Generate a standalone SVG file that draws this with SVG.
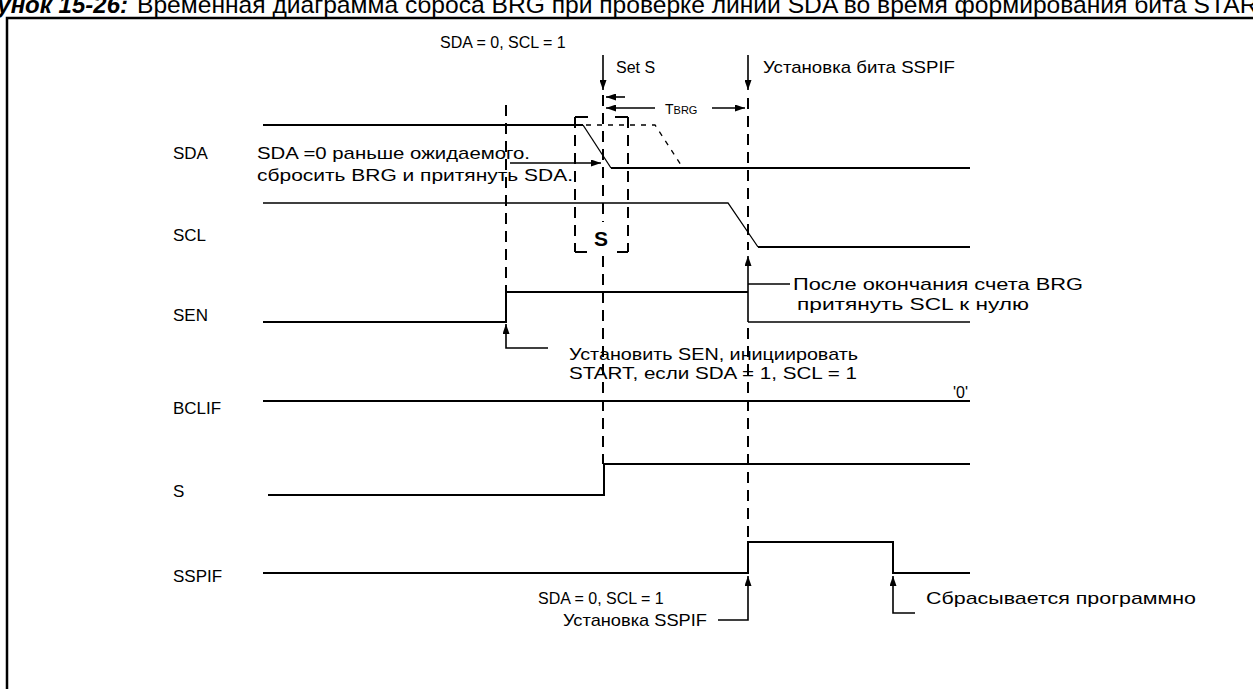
<svg xmlns="http://www.w3.org/2000/svg" width="1253" height="689" viewBox="0 0 1253 689">
<defs>
<marker id="ah" viewBox="0 0 10 8" refX="10" refY="4" markerWidth="10" markerHeight="7" orient="auto" markerUnits="userSpaceOnUse" preserveAspectRatio="none">
<path d="M0,0 L10,4 L0,8 z" fill="#000"/>
</marker>
<style>
text{font-family:"Liberation Sans",Arial,sans-serif;font-size:17px;fill:#000}
.lat{font-size:16px}
.sig{fill:none;stroke:#000;stroke-width:2}
.thin{fill:none;stroke:#000;stroke-width:1.3}
.dash{fill:none;stroke:#000;stroke-width:2;stroke-dasharray:11 7}
.dot{fill:none;stroke:#000;stroke-width:1.3;stroke-dasharray:5 6}
.arr{fill:none;stroke:#000;stroke-width:1.6;marker-end:url(#ah)}
.co{fill:none;stroke:#000;stroke-width:1.6}
</style>
</defs>
<rect width="1253" height="689" fill="#fff"/>

<g id="title">
<text x="128" y="13" text-anchor="end" style="font-size:24px;font-weight:bold;font-style:italic">Рисунок 15-26:</text>
<text x="137" y="13" style="font-size:24px" textLength="1135" lengthAdjust="spacingAndGlyphs">Временная диаграмма сброса BRG при проверке линии SDA во время формирования бита START</text>
</g>
<g id="frame">
<path d="M7,689 V18 H1253" fill="none" stroke="#000" stroke-width="2.5"/>
</g>

<g id="labels">
<text x="173" y="159">SDA</text>
<text x="173" y="241">SCL</text>
<text x="173" y="321">SEN</text>
<text x="173" y="414">BCLIF</text>
<text x="173" y="497">S</text>
<text x="173" y="582">SSPIF</text>
</g>

<g id="signals">
<path class="sig" d="M263,125 H583"/>
<path class="thin" d="M583,125 L611,168"/>
<path class="sig" d="M611,168 H970"/>
<path class="thin" d="M263,203 H728 L758,247"/>
<path class="sig" d="M758,247 H970"/>
<path class="sig" d="M263,322 H506 V292 H748"/>
<path class="thin" d="M748,322 H970"/>
<path class="sig" d="M263,401 H970"/>
<path class="sig" d="M268,495 H604 V464 H970"/>
<path class="sig" d="M263,573 H748 V542 H893 V573 H970"/>
</g>

<g id="guides">
<path class="dash" d="M506,105 V292"/>
<path class="dash" d="M603,95 V222"/>
<path class="dash" d="M603,256 V464"/>
<path class="dash" d="M748,98 V250"/>
<path class="dash" d="M748,328 V542"/>
<path class="dash" d="M575,117 V252"/>
<path class="dash" d="M628,117 V252"/>
<path class="sig" d="M575,117 H588 M615,117 H628 M575,252 H587 M617,252 H628"/>
<path class="dot" d="M586,125 H655 L683,168"/>
</g>

<g id="connectors">
<path class="arr" d="M603,55 V90"/>
<path class="arr" d="M748,55 V90"/>
<path class="arr" d="M625,97 H606"/>
<path class="arr" d="M655,108 H606"/>
<path class="arr" d="M712,108 H745"/>
<path class="arr" d="M510,163 H601"/>
<path class="arr" d="M748,322 V256"/>
<path class="co" d="M748,284 H790"/>
<path class="arr" d="M548,348 H506 V324"/>
<path class="arr" d="M718,620 H748 V576"/>
<path class="arr" d="M915,613 H893 V576"/>
</g>

<g id="annotations">
<text class="lat" x="440" y="48">SDA = 0, SCL = 1</text>
<text class="lat" x="616" y="73">Set S</text>
<text x="763" y="73" textLength="192" lengthAdjust="spacingAndGlyphs">Установка бита  SSPIF</text>
<text x="665" y="114" style="font-size:14px">T<tspan style="font-size:11px">BRG</tspan></text>
<text x="257" y="159" textLength="273" lengthAdjust="spacingAndGlyphs">SDA =0 раньше ожидаемого.</text>
<text x="257" y="181" textLength="316" lengthAdjust="spacingAndGlyphs">сбросить BRG и притянуть SDA.</text>
<text x="594" y="246" style="font-size:21px;font-weight:bold">S</text>
<text x="793" y="290" textLength="290" lengthAdjust="spacingAndGlyphs">После окончания счета BRG</text>
<text x="797" y="310" textLength="232" lengthAdjust="spacingAndGlyphs">притянуть SCL к нулю</text>
<text x="569" y="360" textLength="289" lengthAdjust="spacingAndGlyphs">Установить SEN, инициировать</text>
<text x="569" y="379" textLength="288" lengthAdjust="spacingAndGlyphs">START, если  SDA = 1, SCL = 1</text>
<text class="lat" x="953" y="398">'0'</text>
<text class="lat" x="538" y="604">SDA = 0, SCL = 1</text>
<text x="563" y="626" textLength="144" lengthAdjust="spacingAndGlyphs">Установка SSPIF</text>
<text x="926" y="604" textLength="270" lengthAdjust="spacingAndGlyphs">Сбрасывается программно</text>
</g>
</svg>
